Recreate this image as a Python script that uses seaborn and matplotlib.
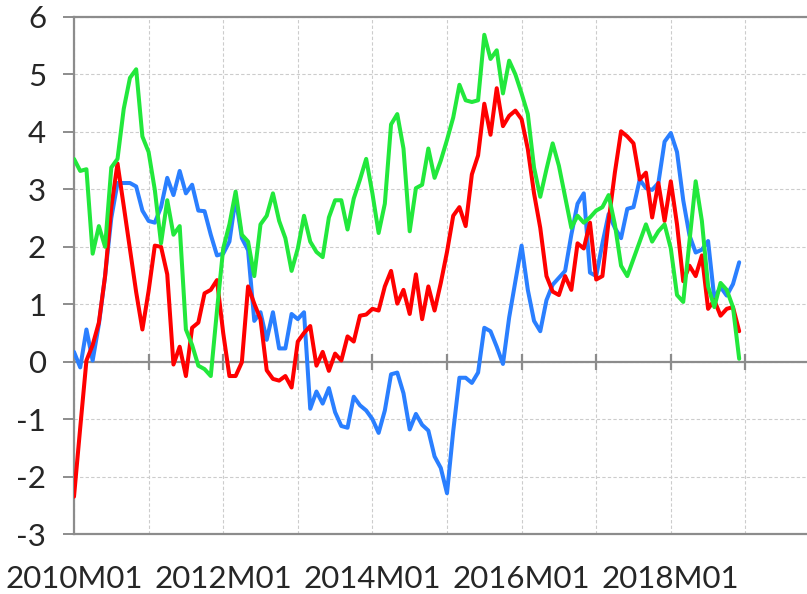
import numpy as np
import pandas as pd
import matplotlib
matplotlib.use("Agg")
import matplotlib.pyplot as plt
import seaborn as sns

# monthly values, 2010M01 .. 2018M12
blue_vals = [
    0.17, -0.1, 0.56, 0.02, 0.65, 1.49, 2.5, 3.11, 3.11, 3.11, 3.05, 2.63,
    2.45, 2.42, 2.69, 3.2, 2.9, 3.32, 2.93, 3.08, 2.63, 2.62, 2.21, 1.85,
    1.88, 2.09, 2.85, 2.15, 1.94, 0.71, 0.86, 0.38, 0.86, 0.23, 0.23, 0.83,
    0.74, 0.86, -0.82, -0.52, -0.73, -0.46, -0.88, -1.12, -1.15, -0.61, -0.76, -0.85,
    -1.0, -1.24, -0.85, -0.22, -0.19, -0.55, -1.18, -0.91, -1.1, -1.2, -1.65, -1.85,
    -2.29, -1.21, -0.28, -0.28, -0.37, -0.19, 0.59, 0.53, 0.26, -0.04, 0.77, 1.4,
    2.02, 1.25, 0.71, 0.53, 1.07, 1.34, 1.46, 1.58, 2.21, 2.75, 2.93, 1.55,
    1.49, 2.06, 2.57, 2.33, 2.15, 2.66, 2.69, 3.17, 3.02, 2.99, 3.11, 3.83,
    3.98, 3.65, 2.81, 2.2, 1.9, 1.95, 2.1, 1.1, 1.3, 1.15, 1.35, 1.73,
]
red_vals = [
    -2.35, -1.15, 0.02, 0.29, 0.68, 1.49, 2.69, 3.45, 2.71, 1.96, 1.21, 0.56,
    1.23, 2.02, 2.0, 1.52, -0.05, 0.26, -0.25, 0.59, 0.68, 1.19, 1.25, 1.42,
    0.5, -0.25, -0.25, -0.01, 1.31, 1.01, 0.74, -0.15, -0.3, -0.33, -0.25, -0.45,
    0.35, 0.5, 0.62, -0.07, 0.17, -0.16, 0.14, 0.02, 0.44, 0.35, 0.8, 0.82,
    0.92, 0.89, 1.31, 1.58, 1.01, 1.25, 0.83, 1.52, 0.74, 1.31, 0.89, 1.37,
    1.91, 2.54, 2.69, 2.36, 3.26, 3.59, 4.49, 3.95, 4.76, 4.1, 4.28, 4.37,
    4.22, 3.7, 2.93, 2.33, 1.49, 1.22, 1.16, 1.49, 1.25, 2.06, 1.97, 2.42,
    1.43, 1.49, 2.45, 3.29, 4.01, 3.92, 3.8, 3.17, 3.29, 2.51, 3.11, 2.45,
    3.14, 2.39, 1.4, 1.67, 1.49, 1.85, 0.92, 1.07, 0.8, 0.92, 0.95, 0.53,
]
green_vals = [
    3.53, 3.32, 3.35, 1.88, 2.36, 2.0, 3.38, 3.53, 4.4, 4.94, 5.09, 3.92,
    3.65, 2.99, 2.06, 2.81, 2.21, 2.36, 0.56, 0.29, -0.07, -0.13, -0.25, 0.89,
    1.97, 2.39, 2.96, 2.21, 2.09, 1.49, 2.39, 2.54, 2.93, 2.45, 2.15, 1.58,
    1.97, 2.54, 2.09, 1.91, 1.82, 2.51, 2.81, 2.81, 2.3, 2.84, 3.17, 3.53,
    2.93, 2.24, 2.75, 4.13, 4.31, 3.71, 2.27, 3.02, 3.08, 3.71, 3.2, 3.5,
    3.86, 4.25, 4.82, 4.55, 4.52, 4.55, 5.69, 5.27, 5.42, 4.67, 5.24, 5.0,
    4.67, 4.31, 3.38, 2.87, 3.35, 3.8, 3.41, 2.87, 2.33, 2.54, 2.42, 2.51,
    2.63, 2.69, 2.9, 2.39, 1.67, 1.49, 1.79, 2.09, 2.39, 2.09, 2.27, 2.39,
    1.97, 1.16, 1.04, 2.09, 3.14, 2.45, 1.31, 0.95, 1.37, 1.25, 0.95, 0.05,
]
periods = pd.period_range("2010-01", periods=len(blue_vals), freq="M")
year_labels = ["2010M01", "", "2012M01", "", "2014M01", "", "2016M01", "", "2018M01", ""]
y_ticks = [-3, -2, -1, 0, 1, 2, 3, 4, 5, 6]

colors = {"blue": "#2a7fff", "red": "#ff0000", "green": "#22e83c"}

df = pd.DataFrame({
    "month": np.arange(len(periods)),
    "blue": blue_vals,
    "red": red_vals,
    "green": green_vals,
})
long = df.melt(id_vars="month", var_name="series", value_name="value")

sns.set_style("white")
plt.rcParams["font.family"] = ["Lato", "DejaVu Sans"]

fig = plt.figure(figsize=(8.07, 5.94), dpi=100)
ax = fig.add_axes([74 / 807, 1 - 534 / 594, 746 / 807, 517 / 594])

grey = "#8c8c8c"
ax.set_xlim(0, 120)
ax.set_ylim(-3, 6)
ax.set_yticks(y_ticks)
ax.set_yticklabels([str(v) for v in y_ticks])
ax.set_xticks(np.arange(0, 120, 12))
ax.set_xticklabels(year_labels)
ax.grid(True, color="#cccccc", linestyle=(0, (3, 2)), linewidth=0.8)
ax.set_axisbelow(True)

sns.lineplot(data=long, x="month", y="value", hue="series",
             hue_order=["blue", "red", "green"], palette=colors,
             linewidth=2.9, legend=False, ax=ax, zorder=3)

# zero line with year tick marks, like the source chart
ax.axhline(0, color=grey, linewidth=1.6, zorder=2)
ax.plot(np.arange(12, 120, 12), np.zeros(len(range(12, 120, 12))), ls="none",
        marker="|", markersize=11, markeredgewidth=1.6, color=grey, zorder=2)

for side in ["left", "top", "bottom"]:
    ax.spines[side].set_color(grey)
    ax.spines[side].set_linewidth(1.6)
ax.spines["right"].set_visible(False)

ax.tick_params(axis="y", direction="out", length=8, width=1.4, color=grey,
               pad=12, labelsize=22.5, left=True)
ax.tick_params(axis="x", length=0, pad=22, labelsize=22.5)
ax.set_xlabel("")
ax.set_ylabel("")

fig.savefig("out.png", dpi=100)
